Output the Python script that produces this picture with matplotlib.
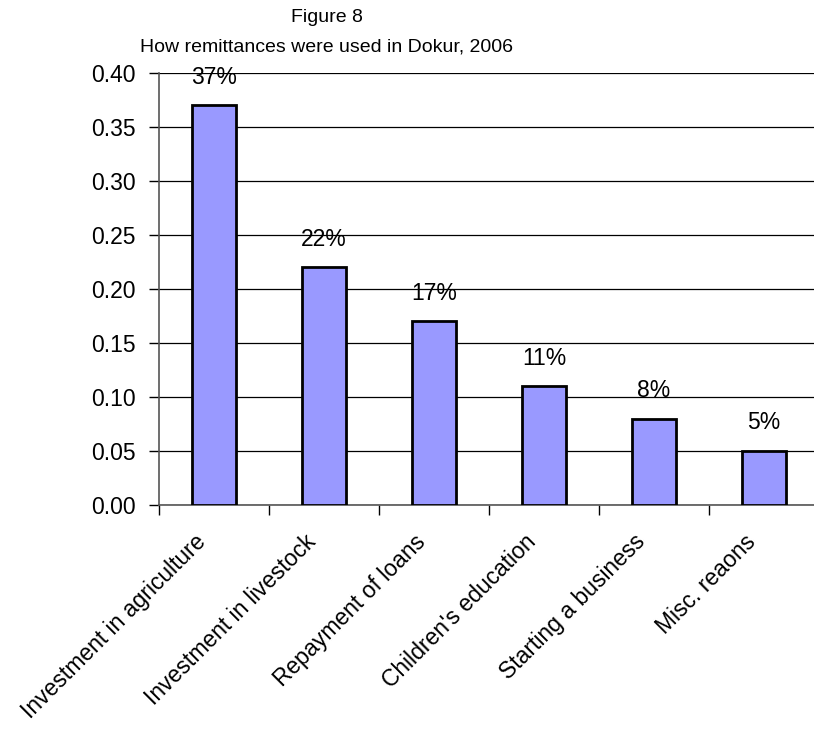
import matplotlib
matplotlib.use("Agg")
import matplotlib.pyplot as plt
import matplotlib.transforms as mtransforms
from matplotlib.ticker import FixedLocator

plt.rcParams['font.family'] = ['Liberation Sans', 'DejaVu Sans']

categories = ["Investment in agriculture", "Investment in livestock", "Repayment of loans",
              "Children's education", "Starting a business", "Misc. reaons"]
values = [0.37, 0.22, 0.17, 0.11, 0.08, 0.05]
labels = ["37%", "22%", "17%", "11%", "8%", "5%"]
yticks = [0.00, 0.05, 0.10, 0.15, 0.20, 0.25, 0.30, 0.35, 0.40]

FS = 16.5
TITLE_FS = 14

fig = plt.figure(figsize=(8.14, 7.29), dpi=100)
ax = fig.add_axes([159/814, 1-505/729, 660/814, 432/729])

x = list(range(len(categories)))
ax.bar(x, values, width=0.4, color="#9999FF", edgecolor="black", linewidth=2, zorder=3)
for xi, v, lab in zip(x, values, labels):
    ax.annotate(lab, (xi, v), xytext=(0, 12), textcoords="offset points",
                ha="center", va="bottom", fontsize=FS)

ax.set_xlim(-0.5, len(categories) - 0.5)
ax.set_ylim(0, 0.40)
ax.set_yticks(yticks)
ax.set_yticklabels([f"{t:.2f}" for t in yticks], fontsize=FS)
ax.yaxis.grid(True, color="black", linewidth=0.9, zorder=0)
ax.set_axisbelow(True)

ax.set_xticks(x)
ax.set_xticklabels(categories, rotation=45, ha="right", rotation_mode="anchor", fontsize=FS)
ax.tick_params(axis="x", length=0, pad=18)
shift = mtransforms.ScaledTranslation(-20/100, 0, fig.dpi_scale_trans)
for lbl in ax.get_xticklabels():
    lbl.set_transform(lbl.get_transform() + shift)
ax.xaxis.set_minor_locator(FixedLocator([i - 0.5 for i in range(len(categories) + 1)]))
ax.tick_params(axis="x", which="minor", length=7, width=1, direction="out", color="black")
ax.tick_params(axis="y", length=7, width=1, direction="out", pad=10)

for s in ["top", "right"]:
    ax.spines[s].set_visible(False)
ax.spines["left"].set_color("#555555")
ax.spines["bottom"].set_color("#555555")
ax.spines["left"].set_linewidth(1.2)
ax.spines["bottom"].set_linewidth(1.2)

fig.text(327/814, 1-17/729, "Figure 8", ha="center", va="center", fontsize=TITLE_FS)
fig.text(327/814, 1-47/729, "How remittances were used in Dokur, 2006", ha="center", va="center",
         fontsize=TITLE_FS)

fig.savefig("out.png", dpi=100)
